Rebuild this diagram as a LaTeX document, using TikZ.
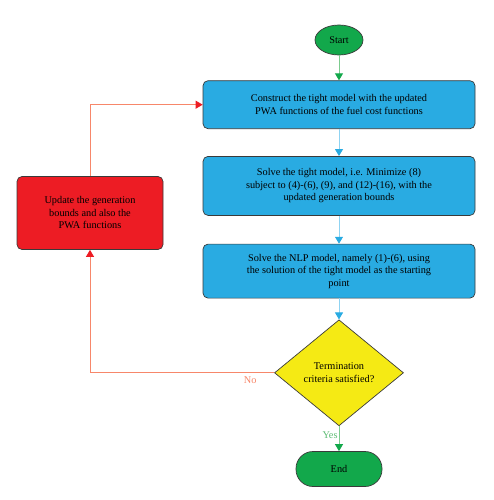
\documentclass[tikz,border=0pt]{standalone}
\usepackage{fontspec}
\setmainfont{Liberation Serif}
\usepackage{tikz}
\usetikzlibrary{positioning, arrows.meta, shapes.geometric}
\definecolor{boxblue}{HTML}{29ABE2}
\definecolor{lineblue}{HTML}{8FD3F2}
\definecolor{boxred}{HTML}{ED1C24}
\definecolor{linered}{HTML}{F7876A}
\definecolor{boxyellow}{HTML}{F5EA14}
\definecolor{boxgreen}{HTML}{12A84B}
\definecolor{linegreen}{HTML}{7CCB8E}
\definecolor{txtgreen}{HTML}{5DBB73}
\definecolor{edge}{HTML}{3A3A3A}
\tikzstyle{terminal} = [draw=edge, fill=boxgreen, line width=0.7pt, text=black, font=\fontsize{10.3}{12}\selectfont]
\tikzstyle{process} = [rectangle, rounded corners=5pt, minimum width=272pt, draw=edge, fill=boxblue, line width=0.7pt, align=center, font=\fontsize{10.3}{12.5}\selectfont]
\tikzstyle{decision} = [diamond, minimum width=129pt, minimum height=106pt, inner sep=0pt, draw=edge, fill=boxyellow, line width=0.7pt, align=center, font=\fontsize{10.3}{12.5}\selectfont]
\tikzstyle{arrowblue} = [draw=lineblue, line width=0.9pt, -{Triangle[length=7pt,width=8pt,color=boxblue]}]
\tikzstyle{arrowgreen} = [draw=linegreen, line width=0.9pt, -{Triangle[length=7pt,width=8pt,color=boxgreen]}]
\tikzstyle{arrowred} = [draw=linered, line width=0.9pt, -{Triangle[length=7pt,width=8pt,color=boxred]}]
\begin{document}
\begin{tikzpicture}[node distance=25pt]
\useasboundingbox (0,0) rectangle (493pt,-500pt);
\node[terminal, ellipse, minimum width=48pt, minimum height=30pt, inner sep=0pt] (start) at (339pt,-40pt) {Start};
\node[process, minimum height=48pt, below=25pt of start] (tight) {Construct the tight model with the updated\\PWA functions of the fuel cost functions};
\node[process, minimum height=59pt, below=27pt of tight] (solve) {Solve the tight model, i.e. Minimize (8)\\subject to (4)-(6), (9), and (12)-(16), with the\\updated generation bounds};
\node[process, minimum height=54pt, below=28pt of solve] (nlp) {Solve the NLP model, namely (1)-(6), using\\the solution of the tight model as the starting\\point};
\node[decision, below=21pt of nlp] (check) {Termination\\criteria satisfied?};
\node[terminal, rectangle, rounded corners=17pt, minimum width=86pt, minimum height=35pt, below=25pt of check] (end) {End};
\node[process, fill=boxred, minimum width=146pt, minimum height=73pt] (update) at (90pt,-213pt) {Update the generation\\bounds and also the\\PWA functions};
\draw[arrowgreen] (start) -- (tight);
\draw[arrowblue] (tight) -- (solve);
\draw[arrowblue] (solve) -- (nlp);
\draw[arrowblue] (nlp) -- (check);
\draw[arrowgreen] (check) -- node[pos=0.35, left, inner sep=1pt, text=txtgreen, font=\fontsize{10.3}{12}\selectfont] {Yes} (end);
\draw[arrowred] (check.west) -- node[pos=0.13, below, text=linered, font=\fontsize{10.3}{12}\selectfont] {No} (check.west -| update.south) -- (update.south);
\draw[arrowred] (update.north) |- (tight.west);
\end{tikzpicture}
\end{document}
